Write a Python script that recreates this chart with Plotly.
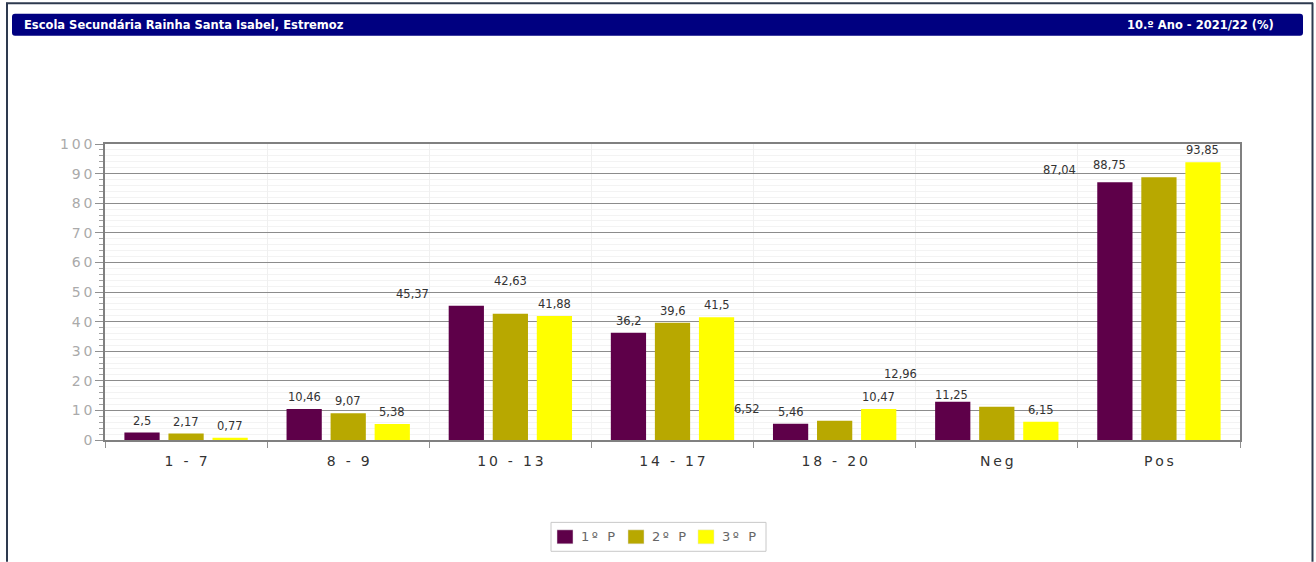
import plotly.graph_objects as go

# Classification bands and period results (%)
categories = ["1 - 7", "8 - 9", "10 - 13", "14 - 17", "18 - 20", "Neg", "Pos"]
series_names = ["1º P", "2º P", "3º P"]
p1 = [2.5, 10.46, 45.37, 36.2, 5.46, 12.96, 87.04]
p2 = [2.17, 9.07, 42.63, 39.6, 6.52, 11.25, 88.75]
p3 = [0.77, 5.38, 41.88, 41.5, 10.47, 6.15, 93.85]
y_ticks = [0, 10, 20, 30, 40, 50, 60, 70, 80, 90, 100]
colors = ["#5E0049", "#B8A800", "#FFFF00"]

title_left = "Escola Secundária Rainha Santa Isabel, Estremoz"
title_right = "10.º Ano - 2021/22 (%)"

FONT = "DejaVu Sans"
W, H = 1316, 562
PL, PR, PT, PB = 105, 1240, 143.5, 440  # plot area in pixels


def px(x):
    return (x - PL) / (PR - PL)


def py(y):
    return (PB - y) / (PB - PT)


def spaced(s):
    # letter-spaced rendering of axis / legend text
    return "\u2009".join(s)


fig = go.Figure()
for name, vals, col in zip(series_names, [p1, p2, p3], colors):
    fig.add_trace(go.Bar(
        x=categories, y=vals, name=name,
        marker=dict(color=col, line=dict(width=0)),
        hoverinfo="x+y+name", showlegend=False,
    ))

# value labels; a few sit displaced from their bar (dx, dy in px)
slot = [-44, 0, 44]
displaced = {
    (0, 2): (-54, 0), (0, 5): (-52, 16), (0, 6): (-55, 0),
    (1, 2): (0, 21), (1, 4): (-88, 0), (1, 5): (-45, 0), (1, 6): (-49, 0),
}
annotations = []
for si, vals in enumerate([p1, p2, p3]):
    for ci, v in enumerate(vals):
        dx, dy = displaced.get((si, ci), (0, 0))
        annotations.append(dict(
            x=categories[ci], y=v, xref="x", yref="y",
            text=f"{v:g}".replace(".", ","), showarrow=False,
            xanchor="center", yanchor="bottom",
            xshift=slot[si] + dx, yshift=3 + dy,
            font=dict(family=FONT, size=11.5, color="#333333"),
        ))

# header bar texts
annotations.append(dict(
    x=px(22), y=py(24), xref="paper", yref="paper", text=f"<b>{title_left}</b>",
    showarrow=False, xanchor="left", yanchor="middle",
    font=dict(family=FONT, size=11.5, color="white"),
))
annotations.append(dict(
    x=px(1276), y=py(24), xref="paper", yref="paper", text=f"<b>{title_right}</b>",
    showarrow=False, xanchor="right", yanchor="middle",
    font=dict(family=FONT, size=11.5, color="white"),
))

shapes = [
    # page frame
    dict(type="line", xref="paper", yref="paper", x0=px(7), x1=px(7), y0=py(2), y1=py(562),
         line=dict(color="#2E3A4F", width=2)),
    dict(type="line", xref="paper", yref="paper", x0=px(6), x1=px(1313), y0=py(2.5), y1=py(2.5),
         line=dict(color="#2E3A4F", width=2)),
    dict(type="line", xref="paper", yref="paper", x0=px(1312.5), x1=px(1312.5), y0=py(2), y1=py(562),
         line=dict(color="#2E3A4F", width=2)),
    # header bar
    dict(type="path", xref="paper", yref="paper",
         path=(f"M {px(15)},{py(13)} L {px(1300)},{py(13)} "
               f"Q {px(1303)},{py(13)} {px(1303)},{py(16)} L {px(1303)},{py(32)} "
               f"Q {px(1303)},{py(35)} {px(1300)},{py(35)} L {px(15)},{py(35)} "
               f"Q {px(12)},{py(35)} {px(12)},{py(32)} L {px(12)},{py(16)} "
               f"Q {px(12)},{py(13)} {px(15)},{py(13)} Z"),
         fillcolor="#000080", line=dict(width=0), layer="above"),
    # legend box
    dict(type="rect", xref="paper", yref="paper", x0=px(551), x1=px(766), y0=py(522.5), y1=py(551.5),
         line=dict(color="#C8C8C8", width=1), fillcolor="white"),
]

# legend entries
legend_x = [557, 628, 698]
for name, col, lx in zip(series_names, colors, legend_x):
    shapes.append(dict(type="rect", xref="paper", yref="paper",
                       x0=px(lx), x1=px(lx + 16), y0=py(530), y1=py(544),
                       fillcolor=col, line=dict(color="#E0E0E0", width=0.5)))
    annotations.append(dict(
        x=px(lx + 22), y=py(537), xref="paper", yref="paper", text=spaced(name),
        showarrow=False, xanchor="left", yanchor="middle",
        font=dict(family=FONT, size=13, color="#666666"),
    ))

fig.update_layout(
    width=W, height=H, autosize=False,
    margin=dict(l=PL, r=W - PR, t=PT, b=H - PB, pad=0, autoexpand=False),
    paper_bgcolor="white", plot_bgcolor="white",
    barmode="group", bargap=0.185, bargroupgap=0.2,
    font=dict(family=FONT, color="#333333"),
    showlegend=False,
    annotations=annotations,
    shapes=shapes,
)

fig.update_xaxes(
    type="category", tickson="boundaries", automargin=False,
    tickvals=categories, ticktext=[spaced(c) for c in categories],
    showline=True, linecolor="#808080", linewidth=1.5, mirror=True,
    ticks="outside", ticklen=6, tickcolor="#909090",
    ticklabelstandoff=7,
    showgrid=True, gridcolor="#F0F0F0", gridwidth=1,
    tickfont=dict(family=FONT, size=14, color="#333333"),
    fixedrange=True,
)
fig.update_yaxes(
    range=[0, 100], automargin=False,
    tickvals=y_ticks, ticktext=[spaced(str(t)) for t in y_ticks],
    showline=True, linecolor="#808080", linewidth=1.5, mirror=True,
    ticks="outside", ticklen=8, tickcolor="#909090",
    showgrid=True, gridcolor="#8C8C8C", gridwidth=1.2,
    minor=dict(dtick=2, tick0=0, ticks="outside", ticklen=4, tickcolor="#A0A0A0",
               showgrid=True, gridcolor="#F3F3F3", gridwidth=1),
    tickfont=dict(family=FONT, size=14, color="#AAAAAA"),
    zeroline=False, fixedrange=True,
)

fig.write_html("out.html")
